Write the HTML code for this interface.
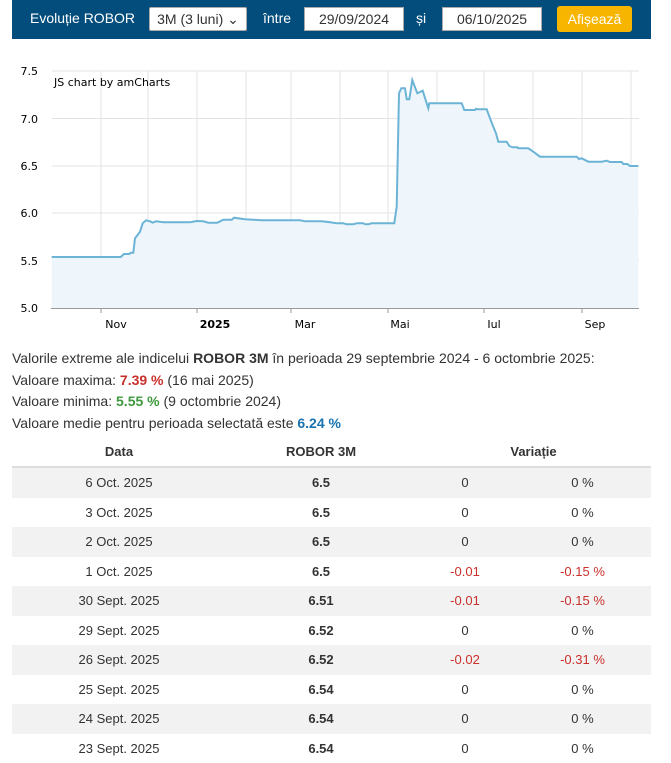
<!DOCTYPE html>
<html><head><meta charset="utf-8"><style>
body{margin:0;width:671px;height:759px;background:#fff;font-family:"Liberation Sans",Arial,sans-serif;color:#333;position:relative;overflow:hidden}
.bar{position:absolute;left:12px;top:0;width:639px;height:39px;background:#024d7c}
.bar span,.bar div{position:absolute}
.t{color:#fff;font-size:14px;top:10px}
.box{background:#fff;border:1px solid #aaa;height:22px;top:7px;font-size:14px;color:#333;line-height:22px;text-align:center;box-sizing:border-box}
.btn{background:#f7b500;color:#fff;border-radius:3px;top:6px;height:26px;line-height:26px;font-size:14px;text-align:center}
.stats{position:absolute;left:12px;top:348px;font-size:14px;line-height:21.5px;color:#333}
table{position:absolute;left:12px;top:436px;width:639px;border-collapse:collapse;font-size:13px;table-layout:fixed}
th{height:30px;padding:0;font-weight:bold;border-bottom:2px solid #ddd;text-align:center;color:#333}
td{height:29.5px;padding:0;text-align:center;color:#333}
tr.g td{background:#f2f2f2}
.r{color:#c9302c}
</style></head><body>
<div class="bar">
<span class="t" style="left:18px">Evoluție ROBOR</span>
<div class="box" style="left:137px;width:98px;height:24px;top:7px;border-radius:2px">3M (3 luni) ⌄</div>
<span class="t" style="left:251px">între</span>
<div class="box" style="left:292px;width:100px;height:24px">29/09/2024</div>
<span class="t" style="left:404px">și</span>
<div class="box" style="left:430px;width:100px;height:24px">06/10/2025</div>
<div class="btn" style="left:545px;width:75px">Afișează</div>
</div>
<svg style="position:absolute;left:0;top:0" width="671" height="345">
<g stroke="#e3e3e3" stroke-width="1">
<line x1="52" y1="71" x2="639" y2="71"/><line x1="52" y1="118.5" x2="639" y2="118.5"/><line x1="52" y1="166" x2="639" y2="166"/><line x1="52" y1="213" x2="639" y2="213"/><line x1="52" y1="260.5" x2="639" y2="260.5"/>
<line x1="101" y1="71" x2="101" y2="308"/><line x1="148" y1="71" x2="148" y2="308"/><line x1="197" y1="71" x2="197" y2="308"/><line x1="246" y1="71" x2="246" y2="308"/><line x1="291" y1="71" x2="291" y2="308"/><line x1="340" y1="71" x2="340" y2="308"/><line x1="388" y1="71" x2="388" y2="308"/><line x1="437" y1="71" x2="437" y2="308"/><line x1="484" y1="71" x2="484" y2="308"/><line x1="533" y1="71" x2="533" y2="308"/><line x1="582" y1="71" x2="582" y2="308"/><line x1="631" y1="71" x2="631" y2="308"/>
</g>
<path d="M51.7,257 L120.7,257 L124,254 L129.3,254 L130.7,252.7 L133.3,252.7 L135,238.3 L138.3,234 L140,231.7 L142.7,223.3 L146,220.3 L150,221.3 L152.7,222.7 L156,221.3 L163.3,222.3 L190,222.3 L196.7,221 L203.3,221.3 L208.3,222.7 L217.3,222.7 L223.3,219.7 L231.7,219.7 L234,217.7 L245,219.3 L253.3,219.7 L261.7,220.3 L300,220.3 L305,221.3 L321.7,221.3 L330,222.3 L336.7,223.3 L343.3,223.3 L346.7,224.3 L353.3,224.3 L356.7,223.3 L363.3,223.3 L365,224.3 L368.3,224.3 L371.7,223.3 L394.3,223.3 L396.7,206.7 L399,93.3 L401.3,88.3 L405,88.3 L406.7,99.3 L409.3,99.3 L412.3,80 L417.3,93.3 L422.7,90.7 L426.7,103.3 L428.3,108.3 L429.3,103.3 L461.7,103.3 L464.3,110 L475,110 L476,108.7 L477.3,109.3 L486.7,109.3 L490,118.3 L493.3,126.7 L496,133.3 L498.3,141.7 L506.7,141.7 L509.3,146 L512.7,147.3 L517.3,147.3 L518.3,148.3 L528.3,148.3 L533.3,151.7 L540,156.7 L576.7,156.7 L579,159 L581.7,158.3 L588.3,161.7 L601.7,161.7 L606.7,160.7 L610,162 L621.7,162 L623.3,164 L627.3,164 L630,166 L638.3,166 L638.3,308 L51.7,308 Z" fill="#eef6fb" stroke="none"/>
<path d="M51.7,257 L120.7,257 L124,254 L129.3,254 L130.7,252.7 L133.3,252.7 L135,238.3 L138.3,234 L140,231.7 L142.7,223.3 L146,220.3 L150,221.3 L152.7,222.7 L156,221.3 L163.3,222.3 L190,222.3 L196.7,221 L203.3,221.3 L208.3,222.7 L217.3,222.7 L223.3,219.7 L231.7,219.7 L234,217.7 L245,219.3 L253.3,219.7 L261.7,220.3 L300,220.3 L305,221.3 L321.7,221.3 L330,222.3 L336.7,223.3 L343.3,223.3 L346.7,224.3 L353.3,224.3 L356.7,223.3 L363.3,223.3 L365,224.3 L368.3,224.3 L371.7,223.3 L394.3,223.3 L396.7,206.7 L399,93.3 L401.3,88.3 L405,88.3 L406.7,99.3 L409.3,99.3 L412.3,80 L417.3,93.3 L422.7,90.7 L426.7,103.3 L428.3,108.3 L429.3,103.3 L461.7,103.3 L464.3,110 L475,110 L476,108.7 L477.3,109.3 L486.7,109.3 L490,118.3 L493.3,126.7 L496,133.3 L498.3,141.7 L506.7,141.7 L509.3,146 L512.7,147.3 L517.3,147.3 L518.3,148.3 L528.3,148.3 L533.3,151.7 L540,156.7 L576.7,156.7 L579,159 L581.7,158.3 L588.3,161.7 L601.7,161.7 L606.7,160.7 L610,162 L621.7,162 L623.3,164 L627.3,164 L630,166 L638.3,166" fill="none" stroke="#6cb4d6" stroke-width="2"/>
<line x1="51" y1="308.5" x2="639" y2="308.5" stroke="#999"/>
<g stroke="#999"><line x1="101" y1="308" x2="101" y2="313"/><line x1="197" y1="308" x2="197" y2="313"/><line x1="291" y1="308" x2="291" y2="313"/><line x1="388" y1="308" x2="388" y2="313"/><line x1="484" y1="308" x2="484" y2="313"/><line x1="582" y1="308" x2="582" y2="313"/></g>
<g font-family="DejaVu Sans,Verdana,sans-serif" font-size="11" fill="#000" text-anchor="end">
<text x="38" y="75">7.5</text><text x="38" y="123">7.0</text><text x="38" y="170">6.5</text><text x="38" y="217">6.0</text><text x="38" y="265">5.5</text><text x="38" y="312">5.0</text>
</g>
<g font-family="DejaVu Sans,Verdana,sans-serif" font-size="11" fill="#000" text-anchor="middle">
<text x="116" y="328">Nov</text><text x="215" y="328" font-weight="bold">2025</text><text x="305" y="328">Mar</text><text x="400" y="328">Mai</text><text x="494" y="328">Iul</text><text x="595" y="328">Sep</text>
</g>
<text x="54" y="86" font-family="DejaVu Sans,Verdana,sans-serif" font-size="11" fill="#000">JS chart by amCharts</text>
</svg>
<div class="stats">Valorile extreme ale indicelui <b>ROBOR 3M</b> în perioada 29 septembrie 2024 - 6 octombrie 2025:<br>
Valoare maxima: <b style="color:#c9302c">7.39 %</b> (16 mai 2025)<br>
Valoare minima: <b style="color:#3e9a3e">5.55 %</b> (9 octombrie 2024)<br>
Valoare medie pentru perioada selectată este <b style="color:#1a73b0">6.24 %</b></div>
<table>
<colgroup><col style="width:214px"><col style="width:190px"><col style="width:98px"><col style="width:137px"></colgroup>
<tr><th>Data</th><th>ROBOR 3M</th><th colspan="2">Variație</th></tr>
<tr class="g"><td>6 Oct. 2025</td><td><b>6.5</b></td><td>0</td><td>0 %</td></tr>
<tr><td>3 Oct. 2025</td><td><b>6.5</b></td><td>0</td><td>0 %</td></tr>
<tr class="g"><td>2 Oct. 2025</td><td><b>6.5</b></td><td>0</td><td>0 %</td></tr>
<tr><td>1 Oct. 2025</td><td><b>6.5</b></td><td class="r">-0.01</td><td class="r">-0.15 %</td></tr>
<tr class="g"><td>30 Sept. 2025</td><td><b>6.51</b></td><td class="r">-0.01</td><td class="r">-0.15 %</td></tr>
<tr><td>29 Sept. 2025</td><td><b>6.52</b></td><td>0</td><td>0 %</td></tr>
<tr class="g"><td>26 Sept. 2025</td><td><b>6.52</b></td><td class="r">-0.02</td><td class="r">-0.31 %</td></tr>
<tr><td>25 Sept. 2025</td><td><b>6.54</b></td><td>0</td><td>0 %</td></tr>
<tr class="g"><td>24 Sept. 2025</td><td><b>6.54</b></td><td>0</td><td>0 %</td></tr>
<tr><td>23 Sept. 2025</td><td><b>6.54</b></td><td>0</td><td>0 %</td></tr>
</table>
</body></html>
